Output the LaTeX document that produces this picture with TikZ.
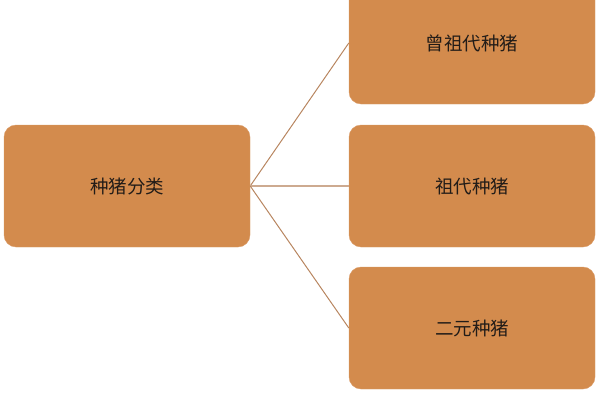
\documentclass[tikz,border=0pt]{standalone}
\usepackage{fontspec}
\setmainfont{Noto Sans CJK SC}
\definecolor{boxfill}{RGB}{211,139,77}
\definecolor{linkcol}{RGB}{184,134,96}
\definecolor{textcol}{RGB}{34,28,24}

\begin{document}
\begin{tikzpicture}[x=1pt,y=1pt,
   cat/.style={rounded corners=12pt,fill=boxfill,draw=boxfill!85!white,
     minimum width=246pt,minimum height=122pt,inner sep=0pt,
     text=textcol,font=\fontsize{18.5}{22}\selectfont}]
   \useasboundingbox (0,0) rectangle (600,400);
   \node (root) at (127,214) [cat] {种猪分类};
   \node (great) at (472,357) [cat] {曾祖代种猪};
   \node (grand) at (472,214) [cat] {祖代种猪};
   \node (cross) at (472,72) [cat] {二元种猪};
   \draw[linkcol,line width=1pt] (root.east) -- (great.west);
   \draw[linkcol!70!white,line width=1.3pt] (root.east) -- (grand.west);
   \draw[linkcol,line width=1pt] (root.east) -- (cross.west);
  \end{tikzpicture}
\end{document}
